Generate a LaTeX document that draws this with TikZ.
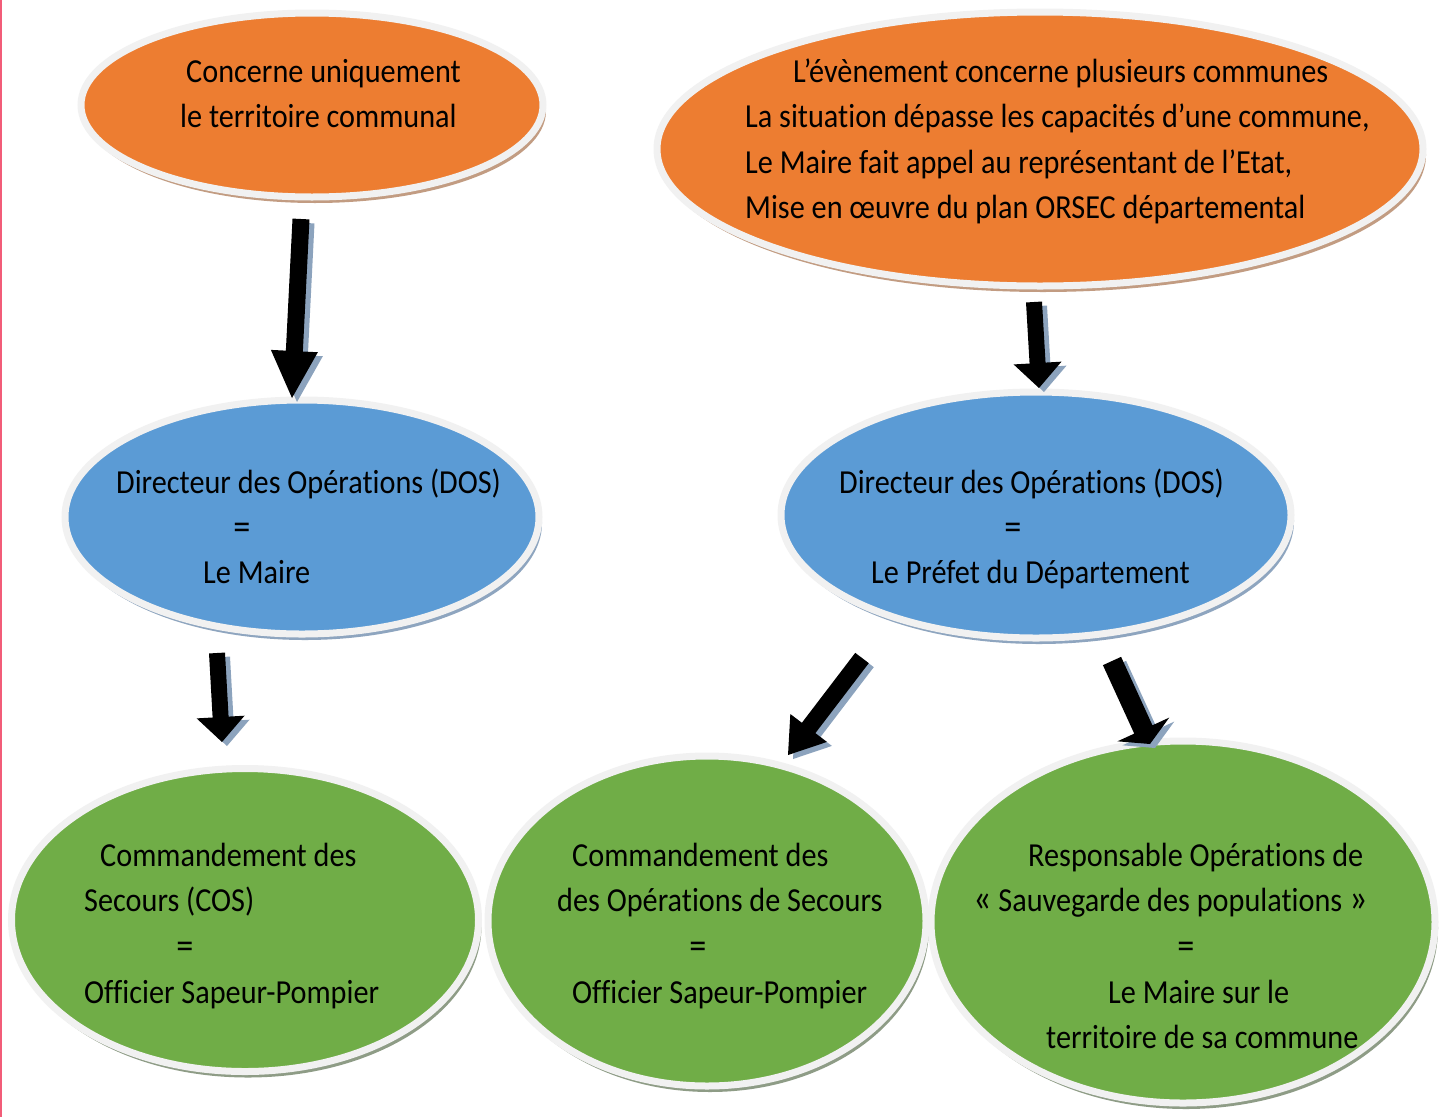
\documentclass[tikz,border=0pt]{standalone}
\usepackage{fontspec}
\setmainfont{Carlito}[Ligatures=NoCommon, FakeStretch=0.9]
\usetikzlibrary{calc,shapes.geometric,shadows}
\definecolor{orgcol}{HTML}{ED7D31}
\definecolor{bluecol}{HTML}{5B9BD5}
\definecolor{greencol}{HTML}{70AD47}
\definecolor{bordercol}{HTML}{F1F1F1}
\definecolor{oshadow}{HTML}{C29C82}
\definecolor{bshadow}{HTML}{8EA5BF}
\definecolor{gshadow}{HTML}{8E9C86}
\definecolor{ashadow}{HTML}{8CA3BD}
\definecolor{redline}{HTML}{F25C78}
\newcommand{\blockarrow}[6]{%
  \coordinate (barb) at ($(#2)!#5!(#1)$);
  \fill[#6] ($(#1)!#3!90:(#2)$) -- ($(barb)!#3!90:(#2)$) -- ($(barb)!#4!90:(#2)$) -- (#2)
    -- ($(barb)!#4!-90:(#2)$) -- ($(barb)!#3!-90:(#2)$) -- ($(#1)!#3!-90:(#2)$) -- cycle;}
\newcommand{\bigq}[1]{{\fontsize{40}{36}\selectfont #1}}
\tikzset{
  bubble/.style={ellipse, draw=bordercol, line width=7pt, inner sep=0pt},
  oshad/.style={drop shadow={shadow xshift=3pt, shadow yshift=-6pt, fill=oshadow, opacity=1}},
  bshad/.style={drop shadow={shadow xshift=3pt, shadow yshift=-6pt, fill=bshadow, opacity=1}},
  gshad/.style={drop shadow={shadow xshift=3pt, shadow yshift=-6pt, fill=gshadow, opacity=1}},
  txt/.style={anchor=base west, inner sep=0pt, font=\fontsize{33.6}{36}\selectfont},
  eqtxt/.style={anchor=base, inner sep=0pt, font=\fontsize{38}{36}\selectfont},
  arrowshadow/.style={ashadow, transform canvas={shift={(5pt,-4pt)}}},
  arrowbody/.style={black}
}
\begin{document}
\begin{tikzpicture}[x=1pt, y=-1pt]
\useasboundingbox (0,0) rectangle (1448,1117);
\fill[white] (0,0) rectangle (1448,1117);
\draw[redline, line width=2.5pt] (1,0) -- (1,1117);

% ellipses
\node[bubble, fill=orgcol, oshad, minimum width=462pt, minimum height=184pt] (ol) at (312,105) {};
\node[bubble, fill=orgcol, oshad, minimum width=766pt, minimum height=274pt] (or) at (1040,149) {};
\node[bubble, fill=bluecol, bshad, minimum width=474pt, minimum height=234pt] (bl) at (302,517) {};
\node[bubble, fill=bluecol, bshad, minimum width=510pt, minimum height=246pt] (br) at (1036,515) {};
\node[bubble, fill=greencol, gshad, minimum width=467pt, minimum height=303pt] (gl) at (245,920) {};
\node[bubble, fill=greencol, gshad, minimum width=438pt, minimum height=330pt] (gm) at (707,921) {};
\node[bubble, fill=greencol, gshad, minimum width=504pt, minimum height=362pt] (gr) at (1183,922) {};

% texts
\node[txt] (ol1) at (186,82) {Concerne uniquement};
\node[txt] (ol2) at (180,127) {le territoire communal};

\node[txt] (or1) at (793,82) {L’évènement concerne plusieurs communes};
\node[txt] (or2) at (745,127) {La situation dépasse les capacités d’une commune,};
\node[txt] (or3) at (745,173) {Le Maire fait appel au représentant de l’Etat,};
\node[txt] (or4) at (745,218) {Mise en œuvre du plan ORSEC départemental};

\node[txt] (bl1) at (116,493) {Directeur des Opérations (DOS)};
\node[eqtxt] (bl2) at (242,539) {=};
\node[txt] (bl3) at (203,583) {Le Maire};

\node[txt] (br1) at (839,493) {Directeur des Opérations (DOS)};
\node[eqtxt] (br2) at (1013,539) {=};
\node[txt] (br3) at (871,583) {Le Préfet du Département};

\node[txt] (gl1) at (100,866) {Commandement des};
\node[txt] (gl2) at (84,911) {Secours (COS)};
\node[eqtxt] (gl3) at (185,958) {=};
\node[txt] (gl4) at (84,1003) {Officier Sapeur-Pompier};

\node[txt] (gm1) at (572,866) {Commandement des};
\node[txt] (gm2) at (557,911) {des Opérations de Secours};
\node[eqtxt] (gm3) at (698,958) {=};
\node[txt] (gm4) at (572,1003) {Officier Sapeur-Pompier};

\node[txt] (gr1) at (1028,866) {Responsable Opérations de};
\node[txt] (gr2) at (973,911) {\bigq{«} Sauvegarde des populations \bigq{»}};
\node[eqtxt] (gr3) at (1186,958) {=};
\node[txt] (gr4) at (1108,1003) {Le Maire sur le};
\node[txt] (gr5) at (1046,1048) {territoire de sa commune};

% arrow end points
\coordinate (a1s) at (301,219);  \coordinate (a1e) at (292,398);
\coordinate (a2s) at (217,653);  \coordinate (a2e) at (222,742);
\coordinate (a3s) at (1034,302); \coordinate (a3e) at (1039,388);
\coordinate (a4s) at (862,658);  \coordinate (a4e) at (788,755);
\coordinate (a5s) at (1112,661); \coordinate (a5e) at (1150,744);

% arrow shadows
\blockarrow{a1s}{a1e}{8.5pt}{23.5pt}{47pt}{arrowshadow}
\blockarrow{a2s}{a2e}{8pt}{24pt}{25pt}{arrowshadow}
\blockarrow{a3s}{a3e}{8pt}{24pt}{25pt}{arrowshadow}
\blockarrow{a4s}{a4e}{8.5pt}{23pt}{34pt}{arrowshadow}
\blockarrow{a5s}{a5e}{10pt}{28.5pt}{16pt}{arrowshadow}
% arrows
\blockarrow{a1s}{a1e}{8.5pt}{23.5pt}{47pt}{arrowbody}
\blockarrow{a2s}{a2e}{8pt}{24pt}{25pt}{arrowbody}
\blockarrow{a3s}{a3e}{8pt}{24pt}{25pt}{arrowbody}
\blockarrow{a4s}{a4e}{8.5pt}{23pt}{34pt}{arrowbody}
\blockarrow{a5s}{a5e}{10pt}{28.5pt}{16pt}{arrowbody}
\end{tikzpicture}
\end{document}
